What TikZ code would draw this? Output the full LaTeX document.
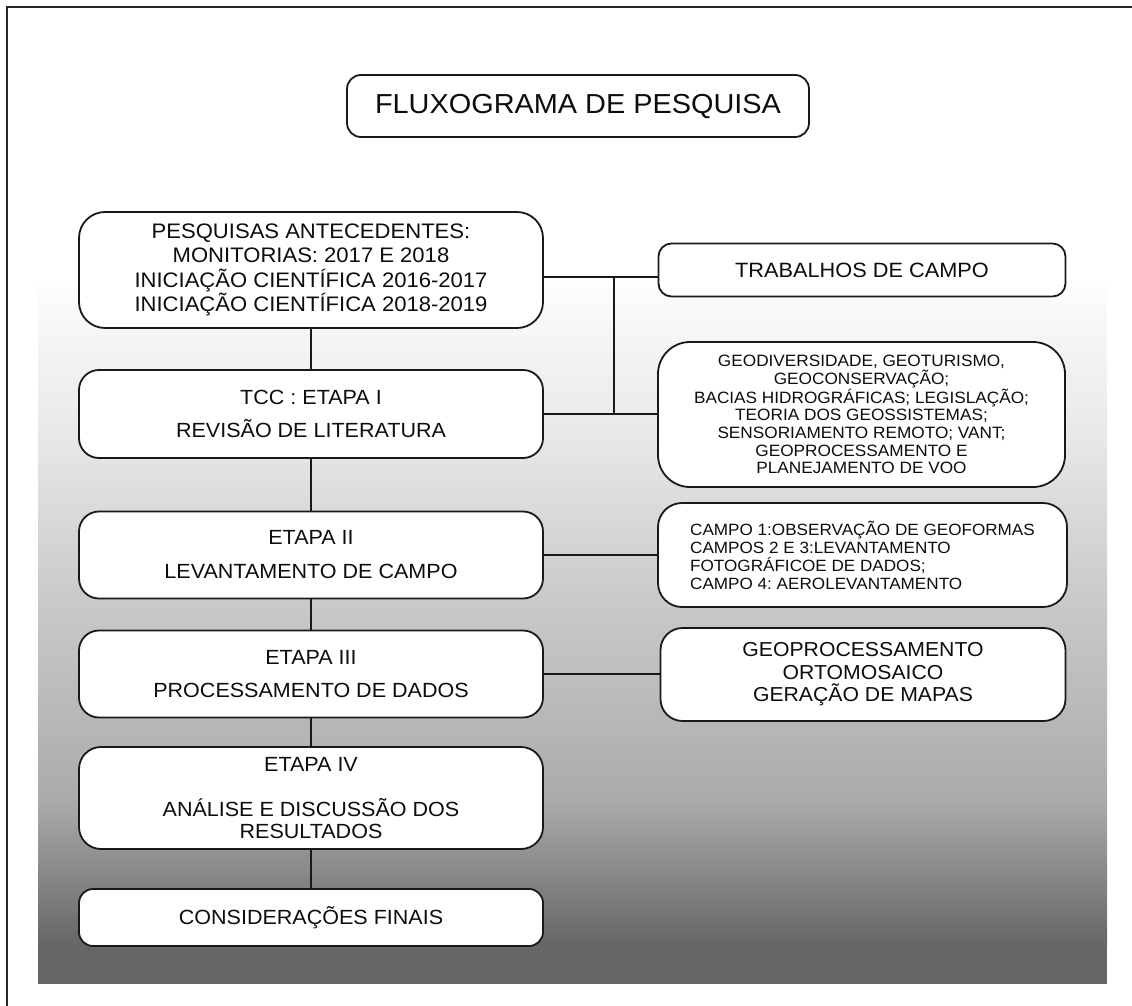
\documentclass[tikz,border=0pt]{standalone}
\usepackage{fontspec}
\setmainfont[FakeStretch=1.05]{Liberation Sans}
\frenchspacing
\begin{document}
\begin{tikzpicture}[x=1pt,y=-1pt,
  box/.style={draw=black!90, line width=1.8pt, fill=white, rounded corners=#1, inner sep=0pt, align=center, text=black!95},
  box/.default=18pt,
  conn/.style={draw=black!90, line width=2pt},
  frame/.style={draw=black!85, line width=1.6pt}]
\useasboundingbox (0,0) rectangle (1132,1006);
% gradient background
\fill[top color=white, bottom color=black!2] (38,278) rectangle (1107,300);
\fill[top color=black!2, bottom color=black!8] (38,300) rectangle (1107,420);
\fill[top color=black!8, bottom color=black!21] (38,420) rectangle (1107,600);
\fill[top color=black!21, bottom color=black!33] (38,600) rectangle (1107,800);
\fill[top color=black!33, bottom color=black!60] (38,800) rectangle (1107,945);
\fill[black!60] (38,945) rectangle (1107,984);
% outer frame
\draw[frame] (7,1006) -- (7,7) -- (1132,7);

\node[box=14pt, minimum width=462pt, minimum height=62pt, font=\fontsize{27.5}{30}\selectfont] (title) at (578,106) {FLUXOGRAMA DE PESQUISA};

\node[box=26pt, minimum width=464pt, minimum height=116pt, font=\fontsize{21}{24.5}\selectfont] (pesq) at (311,270)
  {PESQUISAS ANTECEDENTES:\\MONITORIAS: 2017 E 2018\\INICIAÇÃO CIENTÍFICA 2016-2017\\INICIAÇÃO CIENTÍFICA 2018-2019};
\node[box=20pt, minimum width=464pt, minimum height=88pt, font=\fontsize{20.5}{22}\selectfont] (tcc) at (311,414)
  {TCC : ETAPA I\\[11pt]REVISÃO DE LITERATURA};
\node[box=20pt, minimum width=464pt, minimum height=87pt, font=\fontsize{20.5}{22}\selectfont] (et2) at (311,555)
  {ETAPA II\\[12pt]LEVANTAMENTO DE CAMPO};
\node[box=20pt, minimum width=464pt, minimum height=87pt, font=\fontsize{20.5}{22}\selectfont] (et3) at (311,674)
  {ETAPA III\\[11pt]PROCESSAMENTO DE DADOS};
\node[box=22pt, minimum width=464pt, minimum height=102pt, font=\fontsize{20.5}{22}\selectfont] (et4) at (311,798)
  {ETAPA IV\\[23pt]ANÁLISE E DISCUSSÃO DOS\\RESULTADOS};
\node[box=14pt, minimum width=464pt, minimum height=57pt, font=\fontsize{20.5}{22}\selectfont] (cons) at (311,917.5)
  {CONSIDERAÇÕES FINAIS};

\node[box=13pt, minimum width=407pt, minimum height=53pt, font=\fontsize{20.7}{23}\selectfont] (trab) at (862,270)
  {TRABALHOS DE CAMPO};
\node[box=32pt, minimum width=407pt, minimum height=145pt, font=\fontsize{16.4}{17.7}\selectfont] (geo) at (861.5,414.5)
  {GEODIVERSIDADE, GEOTURISMO,\\GEOCONSERVAÇÃO;\\BACIAS HIDROGRÁFICAS; LEGISLAÇÃO;\\TEORIA DOS GEOSSISTEMAS;\\SENSORIAMENTO REMOTO; VANT;\\GEOPROCESSAMENTO E\\PLANEJAMENTO DE VOO};
\node[box=24pt, minimum width=409pt, minimum height=104pt, align=left, font=\fontsize{16.3}{18}\selectfont] (campo) at (862.5,555)
  {CAMPO 1:OBSERVAÇÃO DE GEOFORMAS\\CAMPOS 2 E 3:LEVANTAMENTO\\FOTOGRÁFICOE DE DADOS;\\CAMPO 4: AEROLEVANTAMENTO};
\node[box=22pt, minimum width=405pt, minimum height=93pt, font=\fontsize{20.2}{22.5}\selectfont] (gproc) at (863,674.5)
  {GEOPROCESSAMENTO\\ORTOMOSAICO\\GERAÇÃO DE MAPAS};

\coordinate (j1) at (614,277);
\coordinate (j2) at (614,414);
\draw[conn] (pesq.east |- j1) -- (j1) -- (trab.west |- j1);
\draw[conn] (j1) -- (j2);
\draw[conn] (tcc.east) -- (geo.west |- tcc.east);
\draw[conn] (pesq.south) -- (tcc.north);
\draw[conn] (tcc.south) -- (et2.north);
\draw[conn] (et2.south) -- (et3.north);
\draw[conn] (et3.south) -- (et4.north);
\draw[conn] (et4.south) -- (cons.north);
\draw[conn] (et2.east) -- (campo.west |- et2.east);
\draw[conn] (et3.east) -- (gproc.west |- et3.east);
\end{tikzpicture}
\end{document}
